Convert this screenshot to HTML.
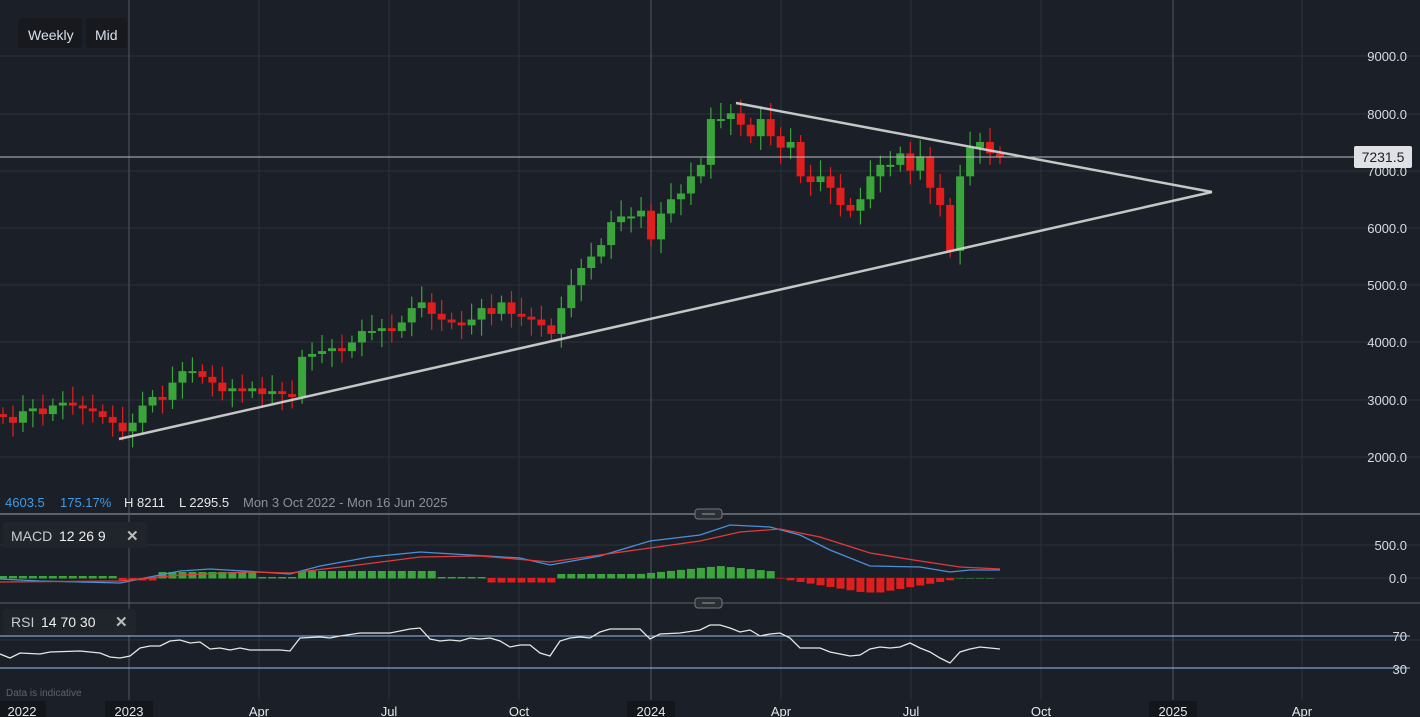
<!DOCTYPE html>
<html><head><meta charset="utf-8"><style>
html,body{margin:0;padding:0;background:#1b2028;width:1420px;height:717px;overflow:hidden;font-family:"Liberation Sans",sans-serif}
svg{position:absolute;left:0;top:0}
</style></head><body>
<svg id="s" width="1420" height="717" xmlns="http://www.w3.org/2000/svg">
<rect width="1420" height="717" fill="#1b2028"/>
<g id="grid" stroke="#2c313a" stroke-width="1"></g>
<g id="c"></g>
<g id="o"></g>
<rect x="18" y="18" width="64" height="30" rx="3" fill="#17191e"/>
<rect x="86" y="18" width="41" height="30" rx="3" fill="#17191e"/>
<text x="28" y="40" fill="#d8e0ea" font-size="14">Weekly</text>
<text x="95" y="40" fill="#d8e0ea" font-size="14">Mid</text>
<text x="5" y="507" fill="#3d9bea" font-size="13">4603.5</text>
<text x="60" y="507" fill="#3d9bea" font-size="13">175.17%</text>
<text x="124" y="507" fill="#e6e6e6" font-size="13">H 8211</text>
<text x="179" y="507" fill="#e6e6e6" font-size="13">L 2295.5</text>
<text x="243" y="507" fill="#8a9099" font-size="13">Mon 3 Oct 2022 - Mon 16 Jun 2025</text>
<rect x="3" y="522" width="144" height="26" rx="3" fill="#20242b"/>
<text x="11" y="541" fill="#c8ccd2" font-size="14">MACD</text>
<text x="59" y="541" fill="#eee" font-size="14">12  26  9</text>
<text x="126" y="541" fill="#bbb" font-size="15" font-weight="bold">✕</text>
<rect x="3" y="609" width="133" height="26" rx="3" fill="#20242b"/>
<text x="11" y="627" fill="#c8ccd2" font-size="14">RSI</text>
<text x="41" y="627" fill="#eee" font-size="14">14  70  30</text>
<text x="115" y="627" fill="#bbb" font-size="15" font-weight="bold">✕</text>
<text x="6" y="696" fill="#5d636c" font-size="10">Data is indicative</text>
</svg>
<script>
const NS="http://www.w3.org/2000/svg";
function el(p,t,a,txt){const e=document.createElementNS(NS,t);for(const k in a)e.setAttribute(k,a[k]);if(txt!==undefined)e.textContent=txt;document.getElementById(p).appendChild(e);return e;}
const Y=p=>56+(9000-p)*0.0573;
// grid
[56,114,171,228,285,342,400,457,545,578,640].forEach(y=>el("grid","line",{x1:0,x2:1420,y1:y,y2:y}));
[259,389,519,781,911,1041,1302].forEach(x=>el("grid","line",{x1:x,x2:x,y1:0,y2:700}));
[129,651,1173].forEach(x=>el("grid","line",{x1:x,x2:x,y1:0,y2:700,stroke:"#40454e","stroke-width":1.5}));
// price labels
[[9000,56],[8000,114],[7000,171],[6000,228],[5000,285],[4000,342],[3000,400],[2000,457]].forEach(([v,y])=>el("o","text",{x:1407,y:y+5,"text-anchor":"end",fill:"#d8dbe0","font-size":13},v.toFixed(1)));
el("o","text",{x:1407,y:550,"text-anchor":"end",fill:"#d8dbe0","font-size":13},"500.0");
el("o","text",{x:1407,y:583,"text-anchor":"end",fill:"#d8dbe0","font-size":13},"0.0");
// closes
const C=[2700,2600,2800,2850,2750,2900,2950,2900,2850,2800,2700,2600,2450,2600,2900,3050,3000,3300,3500,3500,3400,3300,3150,3200,3150,3200,3100,3150,3100,3050,3750,3800,3850,3900,3850,4000,4200,4200,4250,4200,4350,4600,4700,4500,4400,4350,4300,4400,4600,4500,4700,4500,4450,4400,4300,4150,4600,5000,5300,5500,5700,6100,6200,6200,6300,5800,6250,6500,6600,6900,7100,7900,7900,8000,7800,7600,7900,7600,7400,7500,6900,6800,6900,6700,6400,6300,6500,6900,7100,7100,7300,7000,7250,6700,6400,5600,6900,7400,7500,7300,7230];
let prev=2750;
C.forEach((c,i)=>{const x=3+i*9.97;const o=prev;const up=c>=o;const col=up?"#3aa53a":"#e01e1e";
const hi=Math.max(o,c)+120+(i*37%5)*40, lo=Math.min(o,c)-120-(i*53%5)*40;
el("c","line",{x1:x,x2:x,y1:Y(hi),y2:Y(lo),stroke:col,"stroke-width":1.2});
const y1=Y(Math.max(o,c)),y2=Y(Math.min(o,c));
el("c","rect",{x:x-4,y:y1,width:8,height:Math.max(2,y2-y1),fill:col});prev=c;});
// current price
el("o","line",{x1:0,x2:1355,y1:157,y2:157,stroke:"#b8bcc2","stroke-width":1});
el("o","rect",{x:1354,y:146,width:58,height:22,rx:2,fill:"#dfe1e4"});
el("o","text",{x:1383,y:162,"text-anchor":"middle",fill:"#1b2028","font-size":14},"7231.5");
// trendlines
el("o","line",{x1:736,y1:103,x2:1212,y2:192,stroke:"#d8d8d8","stroke-width":2.5,opacity:0.9});
el("o","line",{x1:119,y1:439,x2:1212,y2:192,stroke:"#d8d8d8","stroke-width":2.5,opacity:0.9});
// pane separators
el("o","line",{x1:0,x2:1420,y1:514,y2:514,stroke:"#5c6069","stroke-width":2});
el("o","line",{x1:0,x2:1420,y1:603,y2:603,stroke:"#5c6069","stroke-width":1});
[514,603].forEach(y=>{el("o","rect",{x:695,y:y-5,width:27,height:10,rx:3,fill:"#2a2e35",stroke:"#777"});el("o","line",{x1:702,x2:715,y1:y,y2:y,stroke:"#999"});});
// histogram
for(let i=0;i<100;i++){const x=3+i*9.97;let v;
if(x<160)v=(x<120?2:-2);else if(x<260)v=6;else if(x<300)v=1;else if(x<440)v=7;else if(x<490)v=1;else if(x<560)v=-4;else if(x<780)v=4+Math.max(0,8-Math.abs(x-720)/10);else if(x<960)v=-Math.min(14,(x-780)/6)*(x>880?(960-x)/80:1);else v=0;
const col=v>=0?"#3aa53a":"#e01e1e";el("o","rect",{x:x-4,y:v>=0?578-v:578,width:8,height:Math.abs(v)+0.5,fill:col});}
const pl=(pts,c)=>el("o","polyline",{points:pts,fill:"none",stroke:c,"stroke-width":1.3});
pl("0,579 40,581 120,583 180,571 210,569 260,572 290,574 320,566 370,557 420,552 470,555 520,558 550,565 600,556 650,541 700,535 730,525 770,527 800,535 830,550 870,566 920,567 950,572 970,570 1000,570","#4a90d9");
pl("0,582 120,581 180,575 250,572 290,573 350,566 420,557 480,556 550,562 600,555 650,548 700,541 740,532 780,529 820,537 870,553 920,561 960,567 1000,569","#e23a3a");
// RSI
el("o","line",{x1:0,x2:1410,y1:636,y2:636,stroke:"#8ec3f0","stroke-width":1});
el("o","line",{x1:0,x2:1410,y1:668,y2:668,stroke:"#8ec3f0","stroke-width":1});
el("o","text",{x:1407,y:641,"text-anchor":"end",fill:"#d8dbe0","font-size":13},"70");
el("o","text",{x:1407,y:674,"text-anchor":"end",fill:"#d8dbe0","font-size":13},"30");
pl("0,654 10,658 20,653 40,654 50,652 80,651 100,653 110,657 120,658 130,656 140,648 150,646 160,646 170,641 180,640 190,643 200,642 210,649 220,648 230,650 240,648 250,650 260,650 280,650 290,651 300,638 320,637 330,638 340,636 360,633 380,633 390,633 410,629 420,628 430,639 440,641 450,640 460,641 470,638 480,639 490,638 500,641 510,647 520,645 530,645 540,653 550,656 560,641 570,638 580,637 590,638 600,632 610,629 640,629 650,639 660,634 680,633 700,630 710,625 720,625 730,628 740,632 750,630 760,636 770,634 780,633 790,638 800,648 810,648 820,648 830,652 840,654 850,656 860,655 870,649 880,647 890,648 900,647 910,643 920,648 930,652 940,658 950,663 960,652 970,649 980,647 1000,649","#e6e6e6");
// time axis
[["2022",22,1],["2023",129,1],["Apr",259,0],["Jul",389,0],["Oct",519,0],["2024",651,1],["Apr",781,0],["Jul",911,0],["Oct",1041,0],["2025",1173,1],["Apr",1302,0]].forEach(([t,x,b])=>{
if(b)el("o","rect",{x:x-24,y:701,width:48,height:16,fill:"#13161b"});
el("o","text",{x:x,y:716,"text-anchor":"middle",fill:"#e6e6e6","font-size":13},t);});
</script>
</body></html>
